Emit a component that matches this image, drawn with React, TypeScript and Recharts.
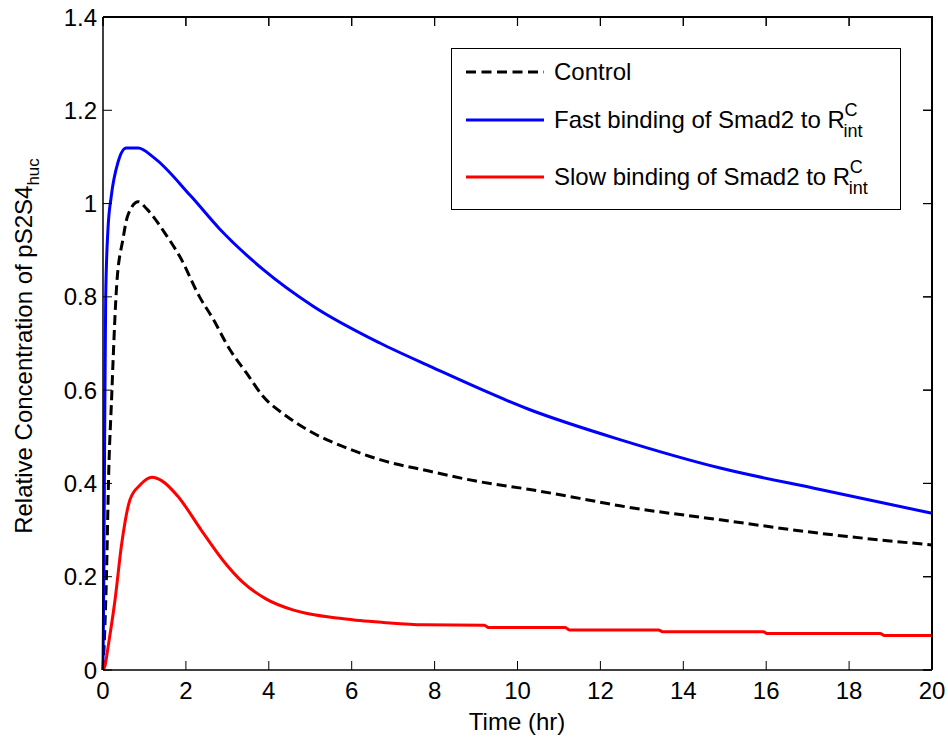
import { LineChart, Line, XAxis, YAxis, Legend } from 'recharts';

// time (hr) and relative concentration
const controlTime = [0, 0.04, 0.08, 0.14, 0.21, 0.245, 0.33, 0.48, 0.6, 0.85, 1.06, 1.55, 1.85, 2.33, 2.66, 3.06, 3.46, 3.86, 4.43, 5.07, 5.88, 6.68, 7.89, 9.0, 10.3, 11.5, 12.47, 14.89, 17.3, 20];
const controlValue = [0, 0.08, 0.19, 0.43, 0.587, 0.667, 0.825, 0.923, 0.975, 1.004, 0.988, 0.929, 0.887, 0.8, 0.752, 0.687, 0.637, 0.587, 0.544, 0.508, 0.476, 0.451, 0.426, 0.405, 0.387, 0.368, 0.352, 0.322, 0.293, 0.268];

const fastTime = [0, 0.02, 0.04, 0.065, 0.12, 0.2, 0.36, 0.56, 0.85, 1.22, 2.12, 2.82, 3.86, 5.07, 6.68, 7.89, 10.3, 12.47, 14.89, 17.3, 20];
const fastValue = [0, 0.2, 0.5, 0.8, 0.945, 1.016, 1.088, 1.119, 1.119, 1.099, 1.016, 0.945, 0.859, 0.78, 0.701, 0.651, 0.558, 0.494, 0.433, 0.387, 0.336];

const slowTime = [0, 0.05, 0.12, 0.29, 0.45, 0.65, 0.9, 1.18, 1.43, 1.8, 2.37, 2.94, 3.35, 3.94, 4.58, 4.99, 5.71, 6.2, 6.76, 7.73, 9.2, 9.3, 11.15, 11.25, 13.4, 13.5, 15.93, 16.03, 18.75, 18.85, 20];
const slowValue = [0, 0.01, 0.048, 0.15, 0.27, 0.365, 0.397, 0.413, 0.405, 0.373, 0.3, 0.23, 0.19, 0.152, 0.129, 0.12, 0.111, 0.106, 0.102, 0.097, 0.096, 0.091, 0.091, 0.086, 0.086, 0.082, 0.082, 0.078, 0.078, 0.074, 0.074];

const xTicks = [0, 2, 4, 6, 8, 10, 12, 14, 16, 18, 20];
const yTicks = [0, 0.2, 0.4, 0.6, 0.8, 1, 1.2, 1.4];

const toPoints = (ts: number[], vs: number[]) => ts.map((t, i) => ({ t, v: vs[i] }));

const FONT = '"Liberation Sans", Arial, sans-serif';

// plot box, used only for the top/right frame overlay
const BOX = { left: 103, top: 17, right: 932, bottom: 670 };

const NoTick = () => <g />;

const RC = () => (
  <span style={{ position: 'relative', display: 'inline-block', width: 24 }}>
    R
    <span style={{ position: 'absolute', left: 17, top: -10, fontSize: 18 }}>C</span>
    <span style={{ position: 'absolute', left: 16, top: 11, fontSize: 18 }}>int</span>
  </span>
);

const legendRows = [
  { color: '#000', dash: '10 5.5', label: <span>Control</span>, center: 23 },
  { color: '#0000ff', dash: undefined, label: <span>Fast binding of Smad2 to <RC /></span>, center: 71 },
  { color: '#ff0000', dash: undefined, label: <span>Slow binding of Smad2 to <RC /></span>, center: 128 },
];

const renderLegend = () => (
  <div style={{ width: 450, height: 162, border: '1.5px solid #000', boxSizing: 'border-box', background: '#fff', position: 'relative', fontFamily: FONT, fontSize: 24, color: '#000' }}>
    {legendRows.map((r, i) => (
      <div key={i} style={{ position: 'absolute', left: 14, top: r.center - 13, height: 26, display: 'flex', alignItems: 'center', whiteSpace: 'nowrap', lineHeight: '26px' }}>
        <svg width={78} height={4} style={{ display: 'block' }}>
          <line x1={0} y1={2} x2={78} y2={2} stroke={r.color} strokeWidth={3} strokeDasharray={r.dash} />
        </svg>
        <span style={{ marginLeft: 10 }}>{r.label}</span>
      </div>
    ))}
  </div>
);

const YLabel = () => (
  <text transform="translate(32, 346) rotate(-90)" textAnchor="middle" fontSize={24} fontFamily={FONT} fill="#000">
    Relative Concentration of pS2S4<tspan fontSize={17} dy={7}>huc</tspan>
  </text>
);

const XLabel = () => (
  <text x={517} y={730} textAnchor="middle" fontSize={24} fontFamily={FONT} fill="#000">
    Time (hr)
  </text>
);

// MATLAB-style box: top and right edges with inward ticks
const Frame = () => {
  const w = BOX.right - BOX.left;
  const h = BOX.bottom - BOX.top;
  return (
    <div style={{ position: 'absolute', left: 0, top: 0, width: 948, height: 742, pointerEvents: 'none', zIndex: 10 }}>
      <div style={{ position: 'absolute', left: BOX.left, top: BOX.top - 1, width: w + 1, height: h, borderTop: '2px solid #000', borderRight: '2px solid #000', boxSizing: 'border-box' }} />
      <svg width={948} height={742} style={{ position: 'absolute', left: 0, top: 0 }}>
        {xTicks.map((t) => {
          const x = BOX.left + (t / 20) * w;
          return <line key={'x' + t} x1={x} y1={BOX.top} x2={x} y2={BOX.top + 9} stroke="#000" strokeWidth={1.2} />;
        })}
        {yTicks.map((v) => {
          const y = BOX.bottom - (v / 1.4) * h;
          return <line key={'y' + v} x1={BOX.right} y1={y} x2={BOX.right - 9} y2={y} stroke="#000" strokeWidth={1.2} />;
        })}
      </svg>
    </div>
  );
};

export default function App() {
  const axisLine = { stroke: '#000', strokeWidth: 1.5 };
  const tickLine = { stroke: '#000', strokeWidth: 1 };
  const tickStyle = { fill: '#000', fontSize: 24, fontFamily: FONT };
  return (
    <div style={{ position: 'absolute', left: 0, top: 0, width: 948, height: 742, background: '#fff' }}>
      <LineChart width={948} height={742} margin={{ top: -3, right: -4, bottom: 0, left: 0 }}>
        <XAxis xAxisId="b" dataKey="t" type="number" domain={[0, 20]} ticks={xTicks} interval={0}
          height={72} tickSize={-9} tickMargin={21} axisLine={axisLine} tickLine={tickLine} tick={tickStyle}
          label={{ content: () => <XLabel /> }} />
        <XAxis xAxisId="t" dataKey="t" orientation="top" type="number" domain={[0, 20]} ticks={xTicks} interval={0}
          height={20} tickSize={-9} tickMargin={0} axisLine={axisLine} tickLine={tickLine} tick={NoTick} />
        <YAxis yAxisId="l" type="number" domain={[0, 1.4]} ticks={yTicks} interval={0}
          width={103} tickSize={-9} tickMargin={15} axisLine={axisLine} tickLine={tickLine} tick={tickStyle}
          label={{ content: () => <YLabel /> }} />
        <YAxis yAxisId="r" orientation="right" type="number" domain={[0, 1.4]} ticks={yTicks} interval={0}
          width={20} tickSize={-9} tickMargin={0} axisLine={axisLine} tickLine={tickLine} tick={NoTick} />
        <Legend content={renderLegend} layout="horizontal" verticalAlign="middle" align="center"
          wrapperStyle={{ position: 'absolute', left: 451, top: 48, width: 450, height: 162 }} />
        <Line xAxisId="b" yAxisId="l" data={toPoints(controlTime, controlValue)} dataKey="v" name="Control"
          type="monotone" stroke="#000" strokeWidth={3} strokeDasharray="10 5" dot={false} isAnimationActive={false} />
        <Line xAxisId="t" yAxisId="r" data={toPoints(fastTime, fastValue)} dataKey="v" name="Fast"
          type="monotone" stroke="#0000ff" strokeWidth={3} dot={false} isAnimationActive={false} />
        <Line xAxisId="b" yAxisId="l" data={toPoints(slowTime, slowValue)} dataKey="v" name="Slow"
          type="monotone" stroke="#ff0000" strokeWidth={3} dot={false} isAnimationActive={false} />
      </LineChart>
      <Frame />
    </div>
  );
}
